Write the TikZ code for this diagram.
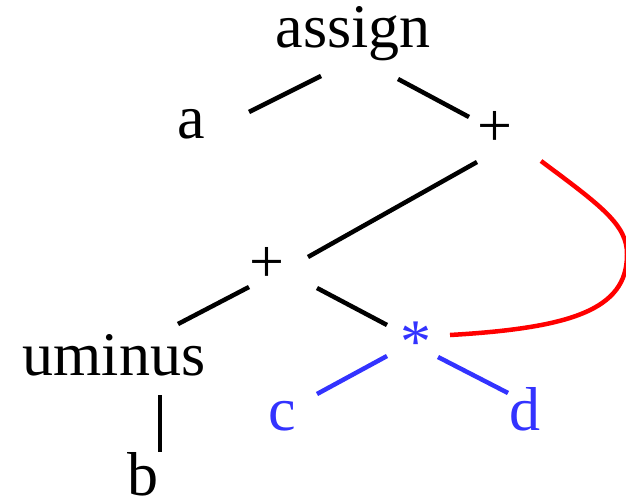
\documentclass[tikz,border=0pt]{standalone}
\usepackage{fontspec}
\setmainfont{Liberation Serif}
\definecolor{tblue}{RGB}{51,51,255}
\definecolor{tred}{RGB}{255,0,0}
\tikzset{
  lbl/.style={anchor=base, inner sep=0pt, text height=0.7em, text depth=0.2em,
    font=\fontsize{62}{70}\selectfont},
  blbl/.style={lbl, text=tblue},
  edge/.style={line width=4.5pt, black},
  bedge/.style={line width=4.5pt, tblue},
  redge/.style={line width=4.5pt, tred}
}
\begin{document}
\begin{tikzpicture}[x=1pt,y=-1pt]
\useasboundingbox (0,0) rectangle (626,498);
\node[lbl] (assign) at (353,47) {assign};
\node[lbl] (a) at (191,138) {a};
\node[lbl] (p1) at (495,146) {+};
\node[lbl] (p2) at (267,282) {+};
\node[lbl] (uminus) at (114,375) {uminus};
\node[lbl, text depth=0pt] (b) at (143,495) {b};
\node[blbl] (star) at (416,362) {*};
\node[blbl] (c) at (282,430) {c};
\node[blbl] (d) at (525,430) {d};
% connector end points
\coordinate (assign-a1) at (321,76);  \coordinate (assign-a2) at (249,112);
\coordinate (assign-p1) at (398,79);  \coordinate (p1-assign) at (469,117);
\coordinate (p1-p2) at (477,162);     \coordinate (p2-p1) at (308,257);
\coordinate (p2-um) at (249,287);     \coordinate (um-p2) at (178,324);
\coordinate (p2-st) at (317,288);     \coordinate (st-p2) at (387,325);
\coordinate (um-b) at (160,395);      \coordinate (b-um) at (160,452);
\coordinate (st-c) at (387,356);      \coordinate (c-st) at (317,394);
\coordinate (st-d) at (438,357);      \coordinate (d-st) at (508,393);
\coordinate (p1-r) at (541,161);      \coordinate (st-r) at (450,335);
\coordinate (rmid) at (627,255);
\draw[edge] (assign-a1) -- (assign-a2);
\draw[edge] (assign-p1) -- (p1-assign);
\draw[edge] (p1-p2) -- (p2-p1);
\draw[edge] (p2-um) -- (um-p2);
\draw[edge] (p2-st) -- (st-p2);
\draw[edge] (um-b) -- (b-um);
\draw[bedge] (st-c) -- (c-st);
\draw[bedge] (st-d) -- (d-st);
\draw[redge] (p1-r) .. controls (600,205) and (628,225) .. (rmid)
  .. controls (627,310) and (570,328) .. (st-r);
\end{tikzpicture}
\end{document}
